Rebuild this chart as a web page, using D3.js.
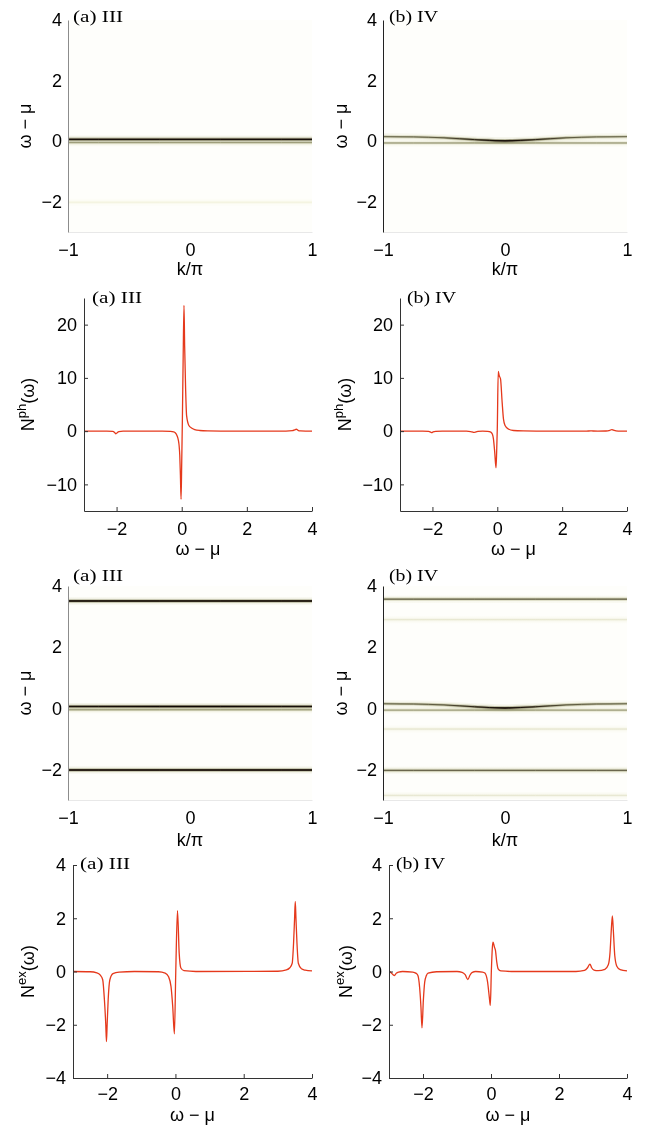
<!DOCTYPE html>
<html>
<head>
<meta charset="utf-8">
<script src="https://cdn.jsdelivr.net/npm/d3@7"></script>
<style>
body { margin: 0; background: #fff; }
svg text { font-family: "Liberation Sans", Arial, sans-serif; fill: #000; }
</style>
</head>
<body>
<script>
// ---- values ----
const kNodes = [-1, -0.75, -0.5, -0.25, 0, 0.25, 0.5, 0.75, 1];
const kTicks = [-1, 0, 1];
const omegaTicks = [-2, 0, 2, 4];
const omegaLineTicks = [-2, 0, 2, 4];
const phTicks = [-10, 0, 10, 20];
const exTicks = [-4, -2, 0, 2, 4];

// band energies (omega - mu) along kNodes, and their relative weight
const bandQP = [0.06, 0.06, 0.06, 0.06, 0.06, 0.06, 0.06, 0.06, 0.06];
const bandQPlow = [-0.05, -0.05, -0.05, -0.05, -0.05, -0.05, -0.05, -0.05, -0.05];
const bandLower = [-2.02, -2.02, -2.02, -2.02, -2.02, -2.02, -2.02, -2.02, -2.02];
const bandUpper = [3.51, 3.51, 3.51, 3.51, 3.51, 3.51, 3.51, 3.51, 3.51];
const bandCurvedIV = [0.15, 0.14, 0.11, 0.05, 0.01, 0.05, 0.11, 0.14, 0.15];
const bandLowIV = [-0.06, -0.06, -0.06, -0.06, -0.06, -0.06, -0.06, -0.06, -0.06];
const bandUpperIV = [3.57, 3.57, 3.57, 3.57, 3.57, 3.57, 3.57, 3.57, 3.57];
const bandSatIV = [2.9, 2.9, 2.9, 2.9, 2.9, 2.9, 2.9, 2.9, 2.9];
const bandMidIV = [-0.68, -0.68, -0.68, -0.68, -0.68, -0.68, -0.68, -0.68, -0.68];
const bandLowerIV = [-2.03, -2.03, -2.03, -2.03, -2.03, -2.03, -2.03, -2.03, -2.03];
const bandBottomIV = [-2.85, -2.85, -2.85, -2.85, -2.85, -2.85, -2.85, -2.85, -2.85];

const wStrong = [1, 1, 1, 1, 1, 1, 1, 1, 1];
const wStrongMid = [0.9, 0.92, 0.95, 1, 1, 1, 0.95, 0.92, 0.9];
const wGray = [0.3, 0.3, 0.3, 0.3, 0.3, 0.3, 0.3, 0.3, 0.3];
const wCurvedIV = [0.45, 0.47, 0.52, 0.72, 1, 0.72, 0.52, 0.47, 0.45];
const wMedium = [0.5, 0.5, 0.5, 0.5, 0.5, 0.5, 0.5, 0.5, 0.5];
const wFaint = [0.06, 0.06, 0.06, 0.06, 0.06, 0.06, 0.06, 0.06, 0.06];
const wTrace = [0.025, 0.025, 0.025, 0.025, 0.025, 0.025, 0.025, 0.025, 0.025];

// N(omega) curves: [omega - mu, N]
const nphIII = [[-3,0],[-2.3,0],[-2.12,-0.05],[-2.06,-0.25],[-2.02,-0.5],[-1.98,-0.3],[-1.93,-0.08],[-1.8,0],[-0.6,0],
  [-0.35,-0.06],[-0.25,-0.15],[-0.2,-0.3],[-0.14,-0.9],[-0.1,-1.8],[-0.08,-2.7],[-0.06,-4.5],[-0.04,-8.3],[-0.02,-12.8],
  [0,-6],[0.02,2],[0.045,14],[0.07,23.6],[0.09,16],[0.12,7.9],[0.15,2.9],[0.22,1.05],[0.3,0.6],[0.4,0.3],[0.55,0.12],
  [0.8,0.03],[1.2,0],[3.2,0],[3.4,0.08],[3.47,0.25],[3.52,0.35],[3.57,0.15],[3.65,0.03],[3.8,0],[4,0]];
const nphIV = [[-3,0],[-2.3,0],[-2.12,-0.04],[-2.05,-0.2],[-2.02,-0.3],[-1.98,-0.15],[-1.9,-0.03],[-1.7,0],[-0.95,0],
  [-0.82,-0.08],[-0.75,-0.2],[-0.72,-0.25],[-0.68,-0.18],[-0.6,-0.05],[-0.45,0],[-0.3,-0.05],[-0.2,-0.2],[-0.15,-0.6],
  [-0.12,-1.4],[-0.08,-3.9],[-0.04,-6.9],[-0.02,-4],[0,0.4],[0.03,11.2],[0.06,10.4],[0.1,9.8],[0.15,5.4],[0.19,2.3],
  [0.24,1.05],[0.34,0.4],[0.5,0.12],[0.8,0.03],[1.2,0],[2.75,0],[2.88,0.05],[2.95,0.02],[3.1,0],[3.35,0.02],[3.47,0.15],
  [3.53,0.3],[3.58,0.2],[3.66,0.05],[3.8,0],[4,0]];
const nexIII = [[-3,0],[-2.5,-0.01],[-2.3,-0.05],[-2.2,-0.14],[-2.13,-0.31],[-2.08,-1.06],[-2.04,-2.0],[-2.02,-2.63],
  [-2.0,-2.0],[-1.97,-1.06],[-1.92,-0.31],[-1.83,-0.08],[-1.65,-0.02],[-1.2,0],[-0.5,-0.01],[-0.3,-0.06],[-0.2,-0.2],
  [-0.13,-0.56],[-0.08,-1.3],[-0.03,-2.34],[0.01,0],[0.06,2.29],[0.11,0.69],[0.16,0.13],[0.25,0.03],[0.6,0],[3.0,0.01],
  [3.25,0.06],[3.35,0.14],[3.42,0.31],[3.46,1.06],[3.49,2.0],[3.51,2.63],[3.53,2.0],[3.56,1.06],[3.6,0.31],[3.69,0.1],
  [3.8,0.05],[4,0.02]];
const nexIV = [[-2.98,0],[-2.93,-0.06],[-2.88,-0.12],[-2.84,-0.15],[-2.79,-0.07],[-2.72,-0.02],[-2.6,0],[-2.3,-0.02],
  [-2.2,-0.07],[-2.15,-0.15],[-2.1,-0.59],[-2.06,-1.34],[-2.03,-2.12],[-1.99,-1.09],[-1.95,-0.4],[-1.9,-0.15],
  [-1.85,-0.06],[-1.6,-0.01],[-1.0,0],[-0.85,-0.03],[-0.76,-0.12],[-0.68,-0.3],[-0.62,-0.14],[-0.55,-0.03],[-0.45,0],
  [-0.25,-0.02],[-0.18,-0.06],[-0.1,-0.4],[-0.05,-0.96],[-0.02,-1.27],[0.01,0],[0.04,0.9],[0.06,1.1],[0.1,0.92],
  [0.13,0.8],[0.17,0.35],[0.21,0.1],[0.29,0.02],[0.6,0],[2.5,0],[2.75,0.04],[2.84,0.14],[2.91,0.28],[2.96,0.14],
  [3.03,0.05],[3.15,0.03],[3.35,0.08],[3.45,0.25],[3.5,0.7],[3.54,1.6],[3.57,2.09],[3.6,1.5],[3.64,0.6],[3.7,0.2],
  [3.8,0.07],[4,0.02]];

const W = 651, H = 1128;
const svg = d3.select('body').append('svg').attr('width', W).attr('height', H);
const defs = svg.append('defs');
const fmt = d3.format('d');

const heatColor = d3.scaleLinear()
    .domain([0, 0.15, 0.4, 0.7, 1])
    .range(['#fefefb', '#e8e8da', '#acac98', '#5a4a3c', '#220a06'])
    .clamp(true);

// stroke layers used to paint a broadened band
const layers = [
    {width: 7, f: 0.07},
    {width: 3.6, f: 0.3},
    {width: 1.9, f: 0.65},
    {width: 1.0, f: 1}
];

let gradId = 0;

function yLabel(g, x, y, parts) {
    let t = g.append('text')
        .attr('transform', 'translate(' + x + ',' + y + ') rotate(-90)')
        .attr('text-anchor', 'middle')
        .style('font-size', '18px');
    parts.forEach(p => {
        let s = t.append('tspan').text(p.t);
        if (p.sup) s.style('font-size', '13px').attr('dy', -8);
        else if (p.after) s.attr('dy', 8);
    });
}

function title(x, y, txt, len) {
    svg.append('text')
        .attr('x', x).attr('y', y)
        .attr('textLength', len).attr('lengthAdjust', 'spacingAndGlyphs')
        .style('font-family', '"Liberation Serif", "Times New Roman", serif')
        .style('font-size', '17px')
        .text(txt);
}

function heatPanel(p) {
    let x = d3.scaleLinear().domain([-1, 1]).range([p.x0, p.x1]);
    let y = d3.scaleLinear().domain([-3, 4]).range([p.bot, p.top]);
    let g = svg.append('g');

    g.append('rect')
        .attr('x', p.x0).attr('y', p.top)
        .attr('width', p.x1 - p.x0).attr('height', p.bot - p.top)
        .attr('fill', '#fefefb');

    let line = d3.line()
        .x((d, i) => x(kNodes[i]))
        .y(d => y(d))
        .curve(d3.curveMonotoneX);

    layers.forEach(layer => {
        p.bands.forEach(b => {
            let id = 'grad' + (gradId++);
            let grad = defs.append('linearGradient')
                .attr('id', id)
                .attr('gradientUnits', 'userSpaceOnUse')
                .attr('x1', x(-1)).attr('x2', x(1))
                .attr('y1', 0).attr('y2', 0);
            kNodes.forEach((k, i) => {
                grad.append('stop')
                    .attr('offset', (k + 1) / 2)
                    .attr('stop-color', heatColor(layer.f * b.w[i]));
            });
            g.append('path')
                .attr('d', line(b.e))
                .attr('fill', 'none')
                .attr('stroke', 'url(#' + id + ')')
                .attr('stroke-width', layer.width)
                .style('mix-blend-mode', 'multiply');
        });
    });

    let ax = g.append('g')
        .attr('transform', 'translate(0,' + p.bot + ')')
        .call(d3.axisBottom(x).tickValues(kTicks).tickSize(0).tickPadding(11).tickFormat(fmt));
    ax.select('.domain').attr('stroke', '#e8e8e8');
    let ay = g.append('g')
        .attr('transform', 'translate(' + p.x0 + ',0)')
        .call(d3.axisLeft(y).tickValues(omegaTicks).tickSize(0).tickPadding(6).tickFormat(fmt));
    ay.select('.domain').attr('stroke', p.axisColor);
    g.selectAll('.tick text').style('font-size', '18px').style('font-family', '"Liberation Sans", Arial, sans-serif');

    g.append('text')
        .attr('x', (p.x0 + p.x1) / 2).attr('y', p.xlabY)
        .attr('text-anchor', 'middle').style('font-size', '18px')
        .text('k/π');
    yLabel(g, p.ylabX, (p.top + p.bot) / 2, [{t: 'ω − μ'}]);
    title(p.tx, p.ty, p.title, p.tlen);
}

function linePanel(p) {
    let x = d3.scaleLinear().domain([-3, 4]).range([p.x0, p.x1]);
    let y = d3.scaleLinear().domain(p.yDomain).range([p.bot, p.top]);
    let g = svg.append('g');

    g.append('path')
        .datum(p.data)
        .attr('fill', 'none')
        .attr('stroke', '#e5391c')
        .attr('stroke-width', 1.3)
        .attr('d', d3.line().x(d => x(d[0])).y(d => y(d[1])).curve(d3.curveMonotoneX));

    g.append('g')
        .attr('transform', 'translate(0,' + p.bot + ')')
        .call(d3.axisBottom(x).tickValues(omegaLineTicks).tickSizeInner(-4).tickSizeOuter(0).tickPadding(p.xpad).tickFormat(fmt));
    g.append('g')
        .attr('transform', 'translate(' + p.x0 + ',0)')
        .call(d3.axisLeft(y).tickValues(p.yTicks).tickSizeInner(-4).tickSizeOuter(0).tickPadding(7).tickFormat(fmt));
    g.selectAll('.domain, .tick line').attr('stroke', '#333');
    g.selectAll('.tick text').style('font-size', '18px').style('font-family', '"Liberation Sans", Arial, sans-serif');

    g.append('text')
        .attr('x', (p.x0 + p.x1) / 2).attr('y', p.xlabY)
        .attr('text-anchor', 'middle').style('font-size', '18px')
        .text('ω − μ');
    yLabel(g, p.ylabX, (p.top + p.bot) / 2, [{t: 'N'}, {t: p.sup, sup: true}, {t: '(ω)', after: true}]);
    title(p.tx, p.ty, p.title, p.tlen);
}

// row 1: phonon spectral function
heatPanel({x0: 68, x1: 312, top: 20, bot: 232, axisColor: '#8c8c8c', xlabY: 275, ylabX: 31,
    tx: 73, ty: 22, title: '(a) III', tlen: 50,
    bands: [
        {e: bandLower, w: wTrace},
        {e: bandQPlow, w: wGray},
        {e: bandQP, w: wStrong}
    ]});
heatPanel({x0: 383, x1: 627, top: 20, bot: 232, axisColor: '#222', xlabY: 275, ylabX: 347,
    tx: 389, ty: 22, title: '(b) IV', tlen: 49,
    bands: [
        {e: bandLowIV, w: wGray},
        {e: bandCurvedIV, w: wCurvedIV}
    ]});

// row 2: N^ph
linePanel({x0: 84, x1: 312, top: 298, bot: 511, yDomain: [-15, 25], yTicks: phTicks, data: nphIII, xpad: 11,
    xlabY: 555, ylabX: 34, sup: 'ph', tx: 92, ty: 303, title: '(a) III', tlen: 50});
linePanel({x0: 400, x1: 627, top: 298, bot: 511, yDomain: [-15, 25], yTicks: phTicks, data: nphIV, xpad: 11,
    xlabY: 555, ylabX: 351, sup: 'ph', tx: 407, ty: 303, title: '(b) IV', tlen: 49});

// row 3: exciton spectral function
heatPanel({x0: 68, x1: 312, top: 586, bot: 800, axisColor: '#8c8c8c', xlabY: 846, ylabX: 31,
    tx: 73, ty: 581, title: '(a) III', tlen: 50,
    bands: [
        {e: bandQPlow, w: wGray},
        {e: bandUpper, w: wStrong},
        {e: bandQP, w: wStrongMid},
        {e: bandLower, w: wStrong}
    ]});
heatPanel({x0: 383, x1: 627, top: 586, bot: 800, axisColor: '#222', xlabY: 846, ylabX: 347,
    tx: 389, ty: 581, title: '(b) IV', tlen: 49,
    bands: [
        {e: bandSatIV, w: wFaint},
        {e: bandMidIV, w: wFaint},
        {e: bandBottomIV, w: wFaint},
        {e: bandLowIV, w: wGray},
        {e: bandUpperIV, w: wMedium},
        {e: bandLowerIV, w: wMedium},
        {e: bandCurvedIV, w: wCurvedIV}
    ]});

// row 4: N^ex
linePanel({x0: 73, x1: 312, top: 865, bot: 1078, yDomain: [-4, 4], yTicks: exTicks, data: nexIII, xpad: 9,
    xlabY: 1121, ylabX: 34, sup: 'ex', tx: 80, ty: 869, title: '(a) III', tlen: 50});
linePanel({x0: 389, x1: 627, top: 865, bot: 1078, yDomain: [-4, 4], yTicks: exTicks, data: nexIV, xpad: 9,
    xlabY: 1121, ylabX: 352, sup: 'ex', tx: 396, ty: 869, title: '(b) IV', tlen: 49});
</script>
</body>
</html>
